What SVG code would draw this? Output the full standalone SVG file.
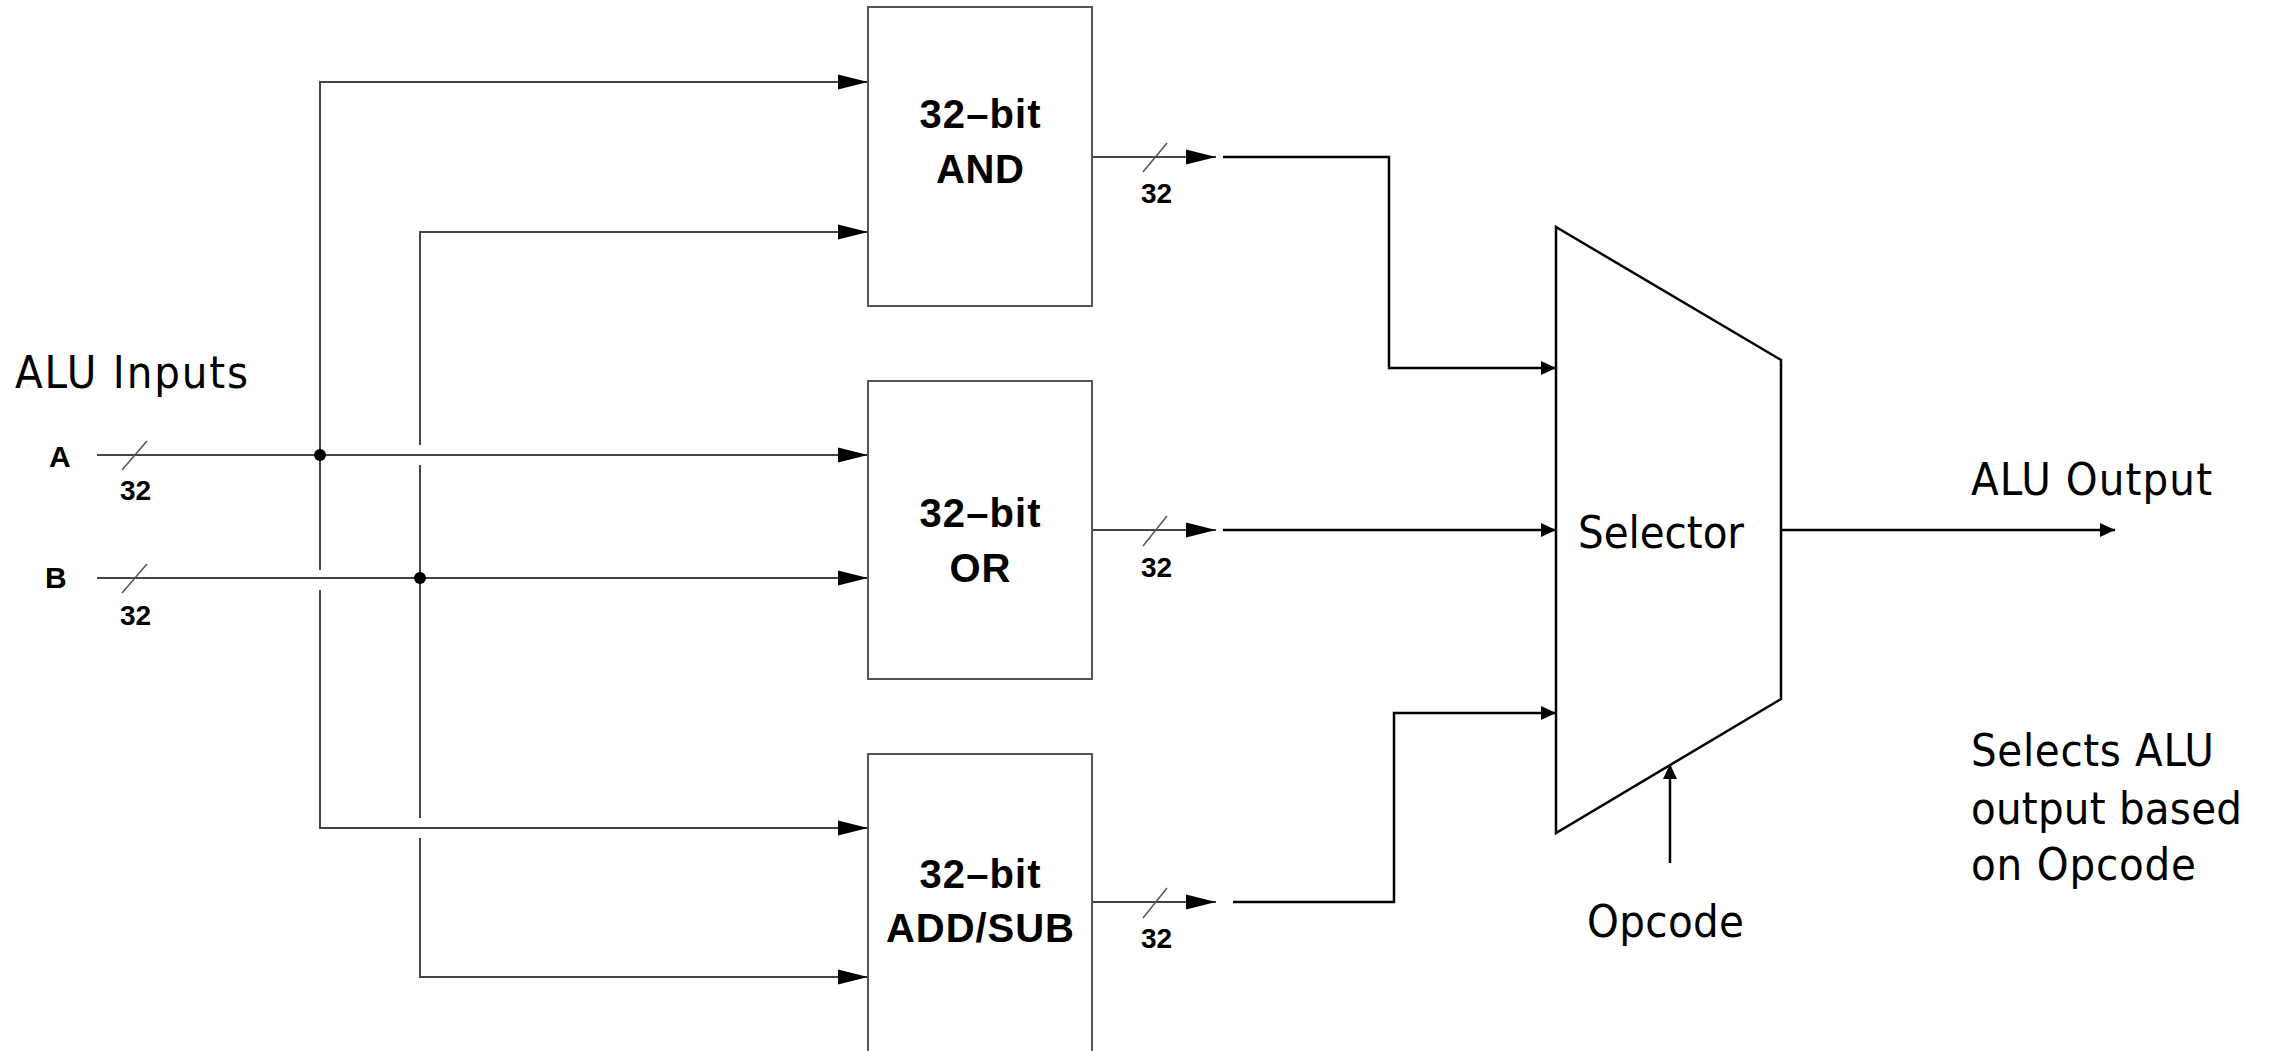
<svg xmlns="http://www.w3.org/2000/svg" width="2269" height="1051" viewBox="0 0 2269 1051">
<style>
.box{fill:#fff;stroke:#555;stroke-width:2}
.in{fill:none;stroke:#444;stroke-width:2}
.out{fill:none;stroke:#000;stroke-width:2.5}
.slash{stroke:#555;stroke-width:1.5}
.bt{font-family:"Liberation Sans",Arial,sans-serif;font-weight:bold;fill:#000}
.nt{font-family:"Liberation Sans",Arial,sans-serif;font-weight:bold;fill:#000;font-size:28px}
.lt{font-family:"DejaVu Sans Condensed","DejaVu Sans",sans-serif;font-size:45px;fill:#000}
</style>
<defs>
<marker id="big" markerUnits="userSpaceOnUse" markerWidth="31" markerHeight="16" refX="30" refY="8" orient="auto"><path d="M0,0.5 L30,8 L0,15.5 z" fill="#000"/></marker>
<marker id="small" markerUnits="userSpaceOnUse" markerWidth="16" markerHeight="15" refX="15" refY="7.5" orient="auto"><path d="M0,0.5 L15,7.5 L0,14.5 z" fill="#000"/></marker>
</defs>
<rect width="2269" height="1051" fill="#fff"/>

<g id="connectors">
<path class="in" d="M97,455 H868" marker-end="url(#big)"/>
<path class="in" d="M97,578 H868" marker-end="url(#big)"/>
<path class="in" d="M320,455 V82 H868" marker-end="url(#big)"/>
<path class="in" d="M320,455 V570"/>
<path class="in" d="M320,590 V828 H868" marker-end="url(#big)"/>
<path class="in" d="M420,445 V232 H868" marker-end="url(#big)"/>
<path class="in" d="M420,465 V818"/>
<path class="in" d="M420,838 V977 H868" marker-end="url(#big)"/>
<circle cx="320" cy="455" r="6" fill="#000"/>
<circle cx="420" cy="578" r="6" fill="#000"/>
<line class="slash" x1="122" y1="470" x2="147" y2="441"/>
<line class="slash" x1="122" y1="593" x2="147" y2="564"/>
<text class="nt" x="120" y="500">32</text>
<text class="nt" x="120" y="625">32</text>

<path class="in" d="M1092,157 H1216" marker-end="url(#big)"/>
<path class="in" d="M1092,530 H1216" marker-end="url(#big)"/>
<path class="in" d="M1092,902 H1216" marker-end="url(#big)"/>
<line class="slash" x1="1143" y1="172" x2="1167" y2="143"/>
<line class="slash" x1="1143" y1="546" x2="1167" y2="516"/>
<line class="slash" x1="1143" y1="918" x2="1167" y2="888"/>
<text class="nt" x="1141" y="203">32</text>
<text class="nt" x="1141" y="577">32</text>
<text class="nt" x="1141" y="948">32</text>

<path class="out" d="M1223,157 H1389 V368 H1556" marker-end="url(#small)"/>
<path class="out" d="M1223,530 H1556" marker-end="url(#small)"/>
<path class="out" d="M1233,902 H1394 V713 H1556" marker-end="url(#small)"/>
<path class="out" d="M1781,530 H2115" marker-end="url(#small)"/>
<path class="out" d="M1670,863 V764" marker-end="url(#small)"/>
</g>

<g id="and">
<rect class="box" x="868" y="7" width="224" height="299"/>
<text class="bt" x="980" y="128" font-size="40" text-anchor="middle" textLength="121">32–bit</text>
<text class="bt" x="980" y="183" font-size="40" text-anchor="middle" textLength="88">AND</text>
</g>
<g id="or">
<rect class="box" x="868" y="381" width="224" height="298"/>
<text class="bt" x="980" y="527" font-size="40" text-anchor="middle" textLength="121">32–bit</text>
<text class="bt" x="980" y="582" font-size="40" text-anchor="middle" textLength="61">OR</text>
</g>
<g id="addsub">
<rect class="box" x="868" y="754" width="224" height="299"/>
<text class="bt" x="980" y="888" font-size="40" text-anchor="middle" textLength="121">32–bit</text>
<text class="bt" x="980" y="942" font-size="40" text-anchor="middle" textLength="188">ADD/SUB</text>
</g>
<g id="selector">
<polygon points="1556,227 1781,360 1781,699 1556,833" fill="#fff" stroke="#000" stroke-width="2.5"/>
<text class="lt" x="1578" y="548" textLength="166">Selector</text>
</g>

<g id="inputs">
<text class="lt" x="15" y="388" textLength="233">ALU Inputs</text>
<text class="bt" x="49" y="467" font-size="30">A</text>
<text class="bt" x="45" y="588" font-size="30">B</text>
</g>
<g id="output">
<text class="lt" x="1971" y="495" textLength="241">ALU Output</text>
</g>
<g id="opcode">
<text class="lt" x="1587" y="937" textLength="157">Opcode</text>
</g>
<g id="note">
<text class="lt" x="1971" y="766" textLength="243">Selects ALU</text>
<text class="lt" x="1971" y="824" textLength="271">output based</text>
<text class="lt" x="1971" y="880" textLength="225">on Opcode</text>
</g>
</svg>
